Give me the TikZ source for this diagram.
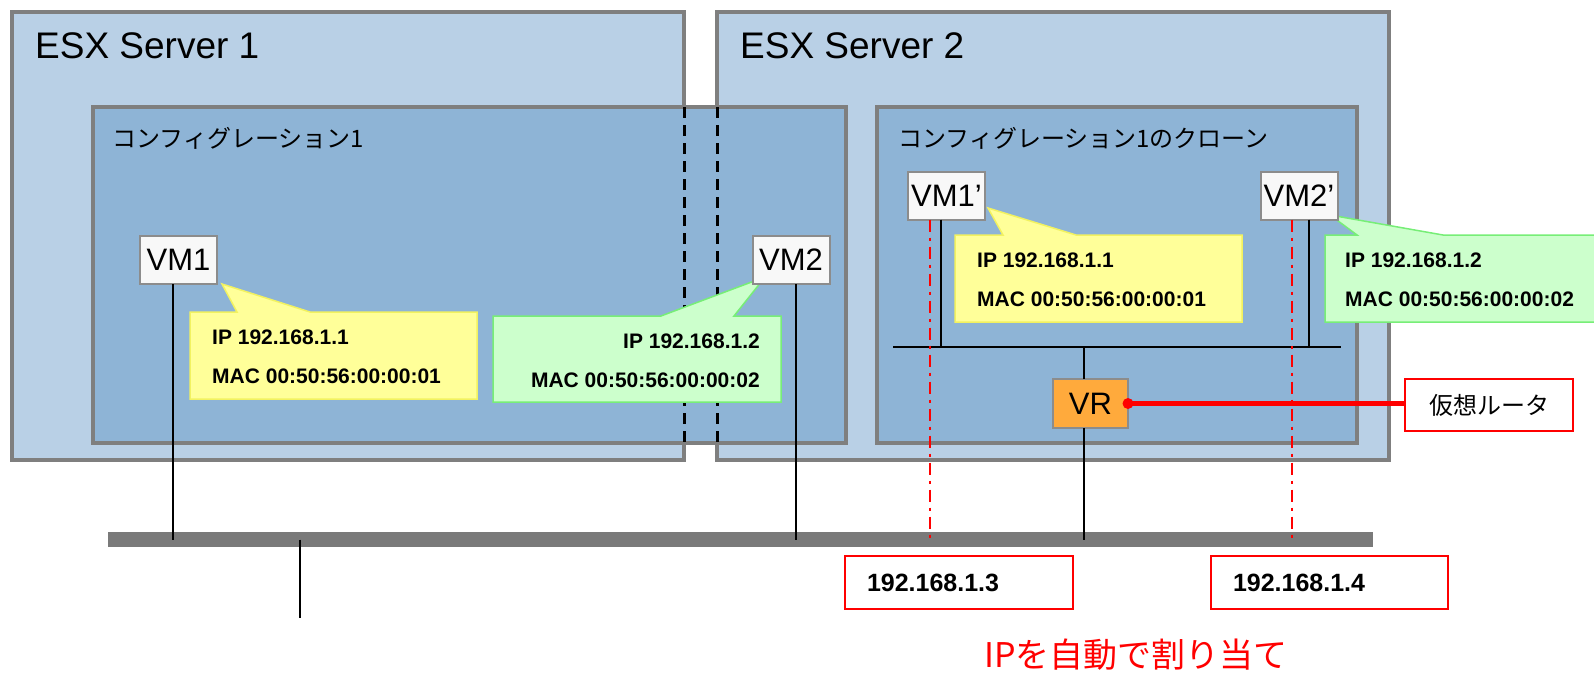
\documentclass[tikz,border=0pt]{standalone}
\usepackage{fontspec}
\setmainfont{Liberation Sans}
\newfontfamily\jp{Noto Sans CJK JP}
\usetikzlibrary{calc}
\definecolor{esxblue}{HTML}{B9D0E6}
\definecolor{confblue}{HTML}{8EB4D6}
\definecolor{boxgray}{HTML}{7F7F7F}
\definecolor{busgray}{HTML}{7A7A7A}
\definecolor{vmwhite}{HTML}{F8F8F8}
\definecolor{callyellow}{HTML}{FFFF99}
\definecolor{callyellowline}{HTML}{F2F260}
\definecolor{callgreen}{HTML}{CCFFCC}
\definecolor{callgreenline}{HTML}{77EE77}
\definecolor{vrorange}{HTML}{FFAA3C}
\begin{document}
\begin{tikzpicture}[x=1pt,y=-1pt,
	esx/.style={draw=boxgray,line width=3.5pt,fill=esxblue},
	conf/.style={draw=boxgray,line width=3.5pt,fill=confblue},
	title/.style={inner sep=0pt,font=\fontsize{37}{37}\selectfont},
	conftitle/.style={inner sep=0pt,font=\jp\fontsize{24}{24}\selectfont},
	vm/.style={draw=boxgray!90,line width=2pt,fill=vmwhite,inner sep=0pt,outer sep=0pt,minimum width=77pt,minimum height=48pt,font=\fontsize{31}{31}\selectfont},
	yellowcall/.style={draw=callyellowline,line width=1.5pt,fill=callyellow},
	greencall/.style={draw=callgreenline,line width=1.5pt,fill=callgreen},
	calltext/.style={inner sep=0pt,font=\bfseries\fontsize{21}{21}\selectfont},
	wire/.style={black,line width=2pt},
	redline/.style={red,line width=2.5pt,dash pattern=on 12pt off 6pt on 3pt off 6pt},
	ipbox/.style={draw=red,line width=2.5pt,fill=white,inner xsep=22pt,inner ysep=0pt,outer sep=0pt,minimum height=53pt,align=left,font=\bfseries\fontsize{25}{25}\selectfont},
	]
	\useasboundingbox (0,0) rectangle (1594,672);
	% ESX servers
	\draw[esx] (12,12) rectangle (684,460);
	\draw[esx] (717,12) rectangle (1389,460);
	\node[title,anchor=base west] (esx1) at (35,58) {ESX Server 1};
	\node[title,anchor=base west] (esx2) at (740,58) {ESX Server 2};
	% configurations
	\draw[conf] (93,107) rectangle (846,443);
	\draw[conf] (877,107) rectangle (1357,443);
	\node[conftitle,anchor=west] (conf1) at (112,138) {コンフィグレーション1};
	\node[conftitle,anchor=west] (conf2) at (898,138) {コンフィグレーション1のクローン};
	\draw[black,line width=3pt,dash pattern=on 11pt off 7pt] (684,107) -- (684,443);
	\draw[black,line width=3pt,dash pattern=on 11pt off 7pt] (717,107) -- (717,443);
	% callouts
	\filldraw[yellowcall] (190,312) -- (237,312) -- (222,284) -- (310,312) -- (477,312) -- (477,399) -- (190,399) -- cycle;
	\node[calltext,anchor=base west] (ip1) at (212,344) {IP 192.168.1.1};
	\node[calltext,anchor=base west] (mac1) at (212,383) {MAC 00:50:56:00:00:01};
	\filldraw[greencall] (493,316) -- (661,316) -- (765,277) -- (734,316) -- (781,316) -- (781,402) -- (493,402) -- cycle;
	\node[calltext,anchor=base east] (ip2) at (760,348) {IP 192.168.1.2};
	\node[calltext,anchor=base east] (mac2) at (760,387) {MAC 00:50:56:00:00:02};
	\filldraw[yellowcall] (955,235) -- (1003,235) -- (988,208) -- (1076,235) -- (1242,235) -- (1242,322) -- (955,322) -- cycle;
	\node[calltext,anchor=base west] (ip1c) at (977,267) {IP 192.168.1.1};
	\node[calltext,anchor=base west] (mac1c) at (977,306) {MAC 00:50:56:00:00:01};
	\filldraw[greencall] (1325,235) -- (1357,235) -- (1330,215) -- (1443,235) -- (1600,235) -- (1600,322) -- (1325,322) -- cycle;
	\node[calltext,anchor=base west] (ip2c) at (1345,267) {IP 192.168.1.2};
	\node[calltext,anchor=base west] (mac2c) at (1345,306) {MAC 00:50:56:00:00:02};
	% VMs, router, bus
	\node[vm] (vm1) at (178.5,260) {VM1};
	\node[vm] (vm2) at (791,260) {VM2};
	\node[vm] (vm1c) at (946.5,195.5) {VM1’};
	\node[vm] (vm2c) at (1299,195.5) {VM2’};
	\node[vm,fill=vrorange,minimum width=75pt,minimum height=49pt] (vr) at (1090.5,403.5) {VR};
	\node[fill=busgray,inner sep=0pt,minimum width=1265pt,minimum height=15pt] (bus) at (740.5,539.5) {};
	\coordinate (lanL) at (893,347);
	\coordinate (lanR) at (1341,347);
	\draw[wire] (lanL) -- (lanR);
	\coordinate (t1) at ($(vm1.south)+(-5.5,0)$);
	\coordinate (t2) at ($(vm2.south)+(5,0)$);
	\coordinate (t3) at ($(vm1c.south)+(-5.5,0)$);
	\coordinate (t4) at ($(vm2c.south)+(10,0)$);
	\coordinate (t5) at ($(vr.north)+(-6.5,0)$);
	\coordinate (t6) at ($(vr.south)+(-6.5,0)$);
	\draw[wire] (t1) -- (t1 |- bus.center);
	\draw[wire] (t2) -- (t2 |- bus.center);
	\draw[wire] (t3) -- (t3 |- lanL);
	\draw[wire] (t4) -- (t4 |- lanL);
	\draw[wire] (t5) -- (t5 |- lanL);
	\draw[wire] (t6) -- (t6 |- bus.center);
	\coordinate (uplink) at (300,618);
	\draw[black,line width=1.5pt] (uplink |- bus.center) -- (uplink);
	% assigned addresses
	\coordinate (d1) at ($(vm1c.south)+(-16.5,0)$);
	\coordinate (d2) at ($(vm2c.south)+(-7,0)$);
	\draw[redline] (d1) -- (d1 |- bus.center);
	\draw[redline] (d2) -- (d2 |- bus.center);
	\node[ipbox,text width=184pt,anchor=north west] (ip3) at (845,556) {192.168.1.3};
	\node[ipbox,text width=193pt,anchor=north west] (ip4) at (1211,556) {192.168.1.4};
	\node[red,inner sep=0pt,font=\jp\fontsize{34}{34}\selectfont] (auto) at (1136,655) {IPを自動で割り当て};
	% router label
	\node[draw=red,line width=2.5pt,fill=white,minimum width=168pt,minimum height=52pt,inner sep=0pt,font=\jp\fontsize{24}{24}\selectfont] (router) at (1489,405) {仮想ルータ};
	\draw[red,line width=4.5pt] (vr.east) -- (vr.east -| router.west);
	\fill[red] (vr.east) circle (5.5);
\end{tikzpicture}
\end{document}
